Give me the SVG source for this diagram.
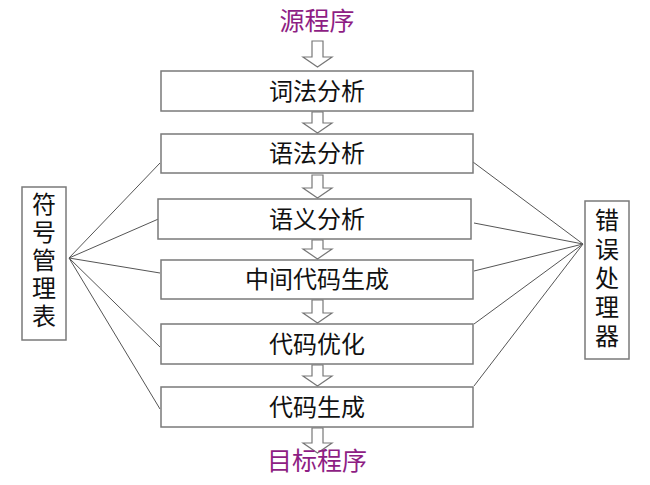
<svg xmlns="http://www.w3.org/2000/svg" width="650" height="485" viewBox="0 0 650 485">
<defs>
<style>
.box{fill:#fff;stroke:#7a7a7a;stroke-width:1.5}
.t{font-family:"Noto Sans CJK SC","Noto Sans",sans-serif;font-size:24px;fill:#111;text-anchor:middle}
.p{font-family:"Noto Sans CJK SC","Noto Sans",sans-serif;font-size:25px;fill:#8e1e84;text-anchor:middle}
.ln{stroke:#555;stroke-width:1;fill:none}
.ar{fill:#fff;stroke:#777;stroke-width:1.2}
</style>
</defs>
<rect width="650" height="485" fill="#fff"/>
<g id="connectors">
<path class="ln" d="M69,258 L160,163 M69,258 L163,217 M69,258 L160,273 M69,258 L160,347 M69,258 L160,409"/>
<path class="ln" d="M583,244 L473,162 M583,244 L474,223 M583,244 L474,271 M583,244 L474,324 M583,244 L474,386"/>
<path class="ar" d="M312,41 H323 V57 H332 L317.5,67 L303,57 H312 Z"/>
<path class="ar" d="M312,112 H323 V123 H332 L317.5,133 L303,123 H312 Z"/>
<path class="ar" d="M312,175 H323 V188 H332 L317.5,198 L303,188 H312 Z"/>
<path class="ar" d="M312,240 H323 V249 H332 L317.5,259 L303,249 H312 Z"/>
<path class="ar" d="M312,300 H323 V313 H332 L317.5,323 L303,313 H312 Z"/>
<path class="ar" d="M312,365 H323 V376 H332 L317.5,386 L303,376 H312 Z"/>
<path class="ar" d="M312,428 H323 V443 H332 L317.5,453 L303,443 H312 Z"/>
</g>
<g id="src"><text class="p" x="317" y="30">源程序</text></g>
<g id="n1"><rect class="box" x="161" y="71" width="312" height="40"/><text class="t" x="317" y="99.5">词法分析</text></g>
<g id="n2"><rect class="box" x="161" y="134" width="312" height="39"/><text class="t" x="317" y="162">语法分析</text></g>
<g id="n3"><rect class="box" x="158" y="199" width="313" height="40"/><text class="t" x="317" y="227.5">语义分析</text></g>
<g id="n4"><rect class="box" x="161" y="260" width="312" height="39"/><text class="t" x="317" y="288">中间代码生成</text></g>
<g id="n5"><rect class="box" x="161" y="324" width="312" height="40"/><text class="t" x="317" y="352.5">代码优化</text></g>
<g id="n6"><rect class="box" x="161" y="387" width="312" height="40"/><text class="t" x="317" y="415.5">代码生成</text></g>
<g id="dst"><text class="p" x="317" y="470">目标程序</text></g>
<g id="sym"><rect class="box" x="22" y="187" width="44" height="153"/>
<text class="t"><tspan x="44" y="213">符</tspan><tspan x="44" y="241">号</tspan><tspan x="44" y="269">管</tspan><tspan x="44" y="297">理</tspan><tspan x="44" y="325">表</tspan></text></g>
<g id="err"><rect class="box" x="585" y="201" width="44" height="158"/>
<text class="t"><tspan x="607" y="229">错</tspan><tspan x="607" y="258">误</tspan><tspan x="607" y="287">处</tspan><tspan x="607" y="316">理</tspan><tspan x="607" y="345">器</tspan></text></g>
</svg>
